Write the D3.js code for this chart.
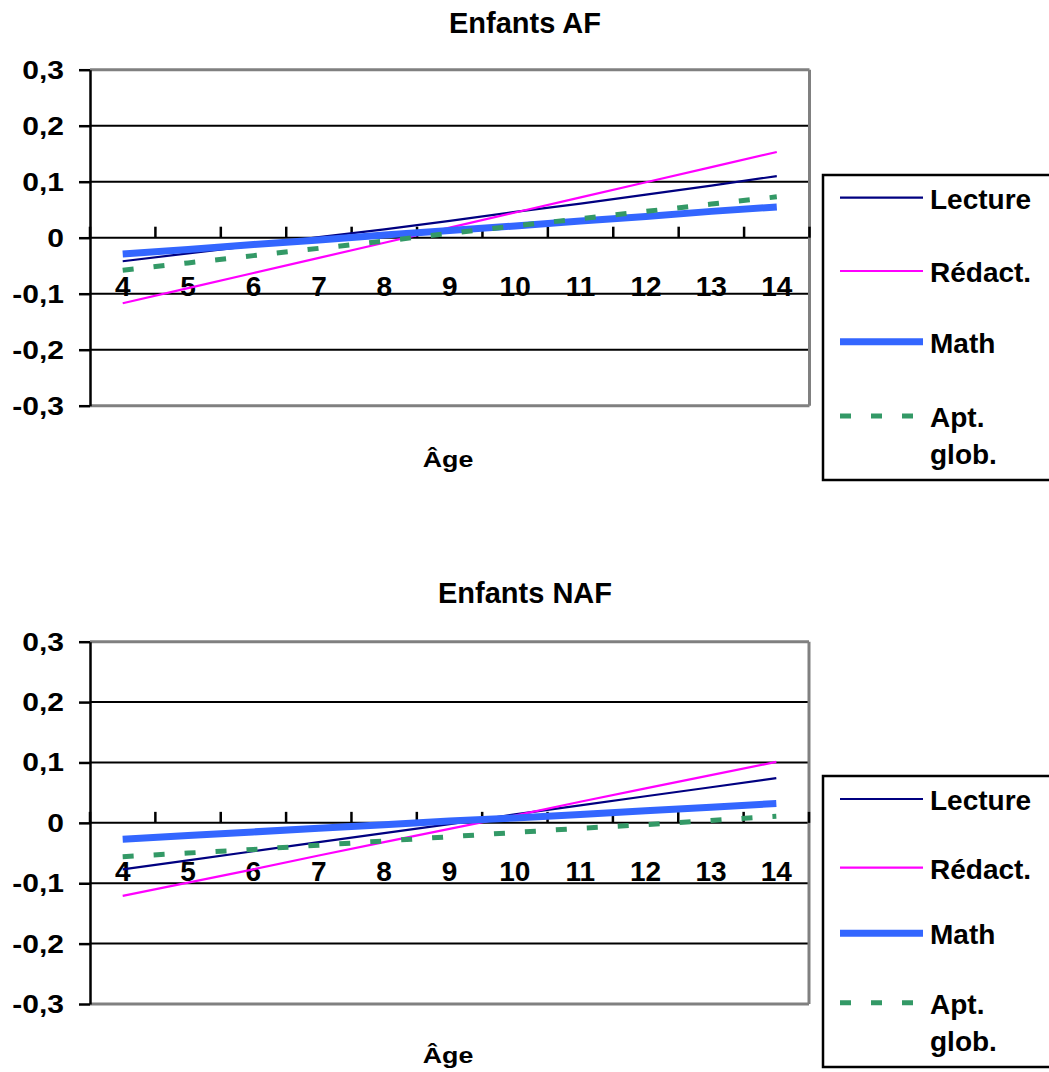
<!DOCTYPE html>
<html>
<head>
<meta charset="utf-8">
<script src="https://d3js.org/d3.v7.min.js"></script>
<style>
  body { margin: 0; background: #fff; }
  text { font-family: "Liberation Sans", Arial, sans-serif; font-weight: bold; fill: #000; }
</style>
</head>
<body>
<svg id="chart"></svg>
<script>
// categories (age) and series
var ages = ["4", "5", "6", "7", "8", "9", "10", "11", "12", "13", "14"];
var seriesNames = ["Lecture", "Rédact.", "Math", "Apt. glob."];
var yTicks = [0.3, 0.2, 0.1, 0, -0.1, -0.2, -0.3];
var yTickLabels = ["0,3", "0,2", "0,1", "0", "-0,1", "-0,2", "-0,3"];

// Enfants AF
var afLecture = [-0.042, -0.028, -0.014, 0.001, 0.015, 0.030, 0.046, 0.061, 0.077, 0.093, 0.110];
var afRedact  = [-0.117, -0.090, -0.063, -0.036, -0.009, 0.018, 0.045, 0.072, 0.099, 0.126, 0.153];
var afMath    = [-0.029, -0.021, -0.012, -0.004, 0.005, 0.013, 0.021, 0.030, 0.038, 0.047, 0.055];
var afApt     = [-0.058, -0.045, -0.032, -0.019, -0.006, 0.008, 0.021, 0.034, 0.047, 0.060, 0.073];

// Enfants NAF
var nafLecture = [-0.077, -0.062, -0.047, -0.032, -0.017, -0.002, 0.014, 0.029, 0.044, 0.059, 0.074];
var nafRedact  = [-0.121, -0.099, -0.077, -0.054, -0.032, -0.010, 0.012, 0.035, 0.057, 0.079, 0.101];
var nafMath    = [-0.027, -0.021, -0.015, -0.009, -0.003, 0.003, 0.008, 0.014, 0.020, 0.026, 0.032];
var nafApt     = [-0.056, -0.050, -0.044, -0.037, -0.030, -0.023, -0.016, -0.009, -0.003, 0.004, 0.011];

// line styles
var styles = [
  {color: "#000080", width: 2.2, dash: null},
  {color: "#FF00FF", width: 2.2, dash: null},
  {color: "#3366FF", width: 7, dash: null},
  {color: "#339966", width: 5, dash: "11,20"}
];

var svg = d3.select("#chart")
    .attr("width", 1049)
    .attr("height", 1072);

function drawChart(cfg) {
  var g = svg.append("g");

  var x = d3.scaleBand()
    .domain(ages)
    .range([cfg.left, cfg.right]);

  var y = d3.scaleLinear()
    .domain([-0.3, 0.3])
    .range([cfg.bottom, cfg.top]);

  // title
  g.append("text")
    .attr("x", 525)
    .attr("y", cfg.titleY)
    .attr("text-anchor", "middle")
    .style("font-size", "29px")
    .text(cfg.title);

  // gridlines
  g.selectAll(".grid")
    .data(yTicks)
    .enter()
    .append("line")
    .attr("x1", cfg.left)
    .attr("x2", cfg.right)
    .attr("y1", function(d) { return y(d); })
    .attr("y2", function(d) { return y(d); })
    .attr("stroke", function(d) { return Math.abs(d) === 0.3 ? "#808080" : "#000"; })
    .attr("stroke-width", function(d) { return Math.abs(d) === 0.3 ? 3 : 2; });

  // right border
  g.append("line")
    .attr("x1", cfg.right).attr("x2", cfg.right)
    .attr("y1", y(0.3)).attr("y2", y(-0.3))
    .attr("stroke", "#808080")
    .attr("stroke-width", 3);

  // y axis
  var yAxis = g.append("g")
    .attr("transform", "translate(" + cfg.left + ",0)")
    .call(d3.axisLeft(y).tickValues(yTicks).tickSize(11).tickSizeOuter(0).tickFormat(""));
  yAxis.select(".domain").attr("stroke", "#000").attr("stroke-width", 2.5);
  yAxis.selectAll(".tick line").attr("stroke", "#000").attr("stroke-width", 2.5);

  g.selectAll(".ylab")
    .data(yTicks)
    .enter()
    .append("text")
    .attr("text-anchor", "end")
    .attr("transform", function(d) {
      return "translate(" + (cfg.left - 26) + "," + (y(d) + 9) + ") scale(1.2,1)";
    })
    .style("font-size", "25px")
    .text(function(d, i) { return yTickLabels[i]; });

  // category axis at zero, ticks between categories
  var bounds = ages.map(function(a) { return x(a); }).concat([cfg.right]);
  g.selectAll(".xtick")
    .data(bounds)
    .enter()
    .append("line")
    .attr("x1", function(d) { return d; })
    .attr("x2", function(d) { return d; })
    .attr("y1", y(0))
    .attr("y2", y(0) - 11)
    .attr("stroke", "#000")
    .attr("stroke-width", 2.5);

  g.selectAll(".xlab")
    .data(ages)
    .enter()
    .append("text")
    .attr("x", function(d) { return x(d) + x.bandwidth() / 2; })
    .attr("y", y(0) + 58)
    .attr("text-anchor", "middle")
    .style("font-size", "28px")
    .text(function(d) { return d; });

  // axis title
  g.append("text")
    .attr("text-anchor", "middle")
    .attr("transform", "translate(448," + cfg.ageY + ") scale(1.22,1)")
    .style("font-size", "22px")
    .text("Âge");

  // series lines
  var line = d3.line()
    .x(function(d, i) { return x(ages[i]) + x.bandwidth() / 2; })
    .y(function(d) { return y(d); });

  cfg.series.forEach(function(vals, i) {
    g.append("path")
      .datum(vals)
      .attr("d", line)
      .attr("fill", "none")
      .attr("stroke", styles[i].color)
      .attr("stroke-width", styles[i].width)
      .attr("stroke-dasharray", styles[i].dash);
  });

  // legend
  var lg = g.append("g");
  lg.append("rect")
    .attr("x", 823)
    .attr("y", cfg.legTop)
    .attr("width", 240)
    .attr("height", cfg.legBottom - cfg.legTop)
    .attr("fill", "#fff")
    .attr("stroke", "#000")
    .attr("stroke-width", 2.5);

  seriesNames.forEach(function(name, i) {
    var ly = cfg.legY[i];
    lg.append("line")
      .attr("x1", 840).attr("x2", 923)
      .attr("y1", ly).attr("y2", ly)
      .attr("stroke", styles[i].color)
      .attr("stroke-width", styles[i].width)
      .attr("stroke-dasharray", styles[i].dash);
    var parts = name.split(" ");
    var t = lg.append("text")
      .attr("x", 930)
      .attr("y", ly + 11)
      .style("font-size", "28px");
    parts.forEach(function(p, k) {
      t.append("tspan")
        .attr("x", 930)
        .attr("dy", k === 0 ? 0 : 37)
        .text(p);
    });
  });
}

drawChart({
  title: "Enfants AF",
  titleY: 33,
  left: 90, right: 809.5, top: 69.7, bottom: 405.7,
  ageY: 467,
  legTop: 175, legBottom: 480,
  legY: [197.7, 271, 341.7, 416],
  series: [afLecture, afRedact, afMath, afApt]
});

drawChart({
  title: "Enfants NAF",
  titleY: 603,
  left: 90, right: 809, top: 641.7, bottom: 1004,
  ageY: 1063,
  legTop: 776, legBottom: 1067,
  legY: [799, 867.7, 933.3, 1002.7],
  series: [nafLecture, nafRedact, nafMath, nafApt]
});
</script>
</body>
</html>
